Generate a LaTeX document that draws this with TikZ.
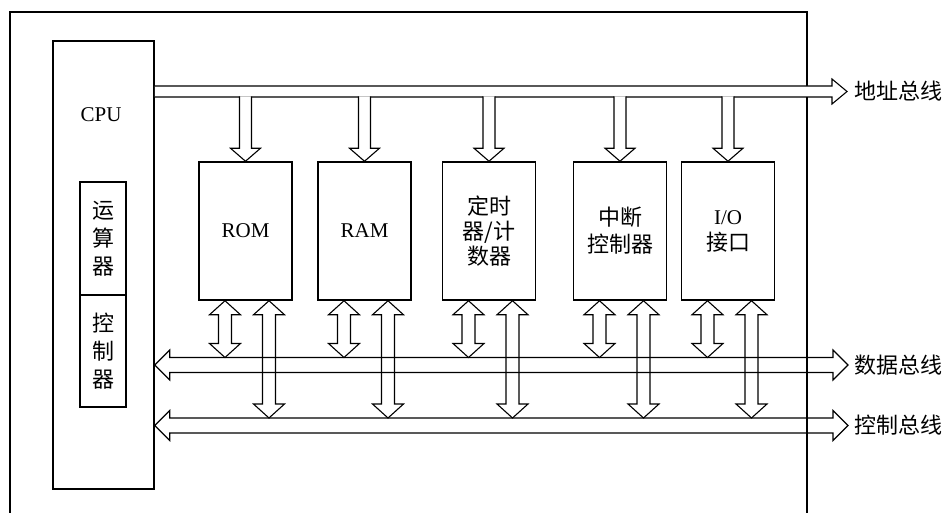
\documentclass[tikz,border=0pt]{standalone}
\usepackage{fontspec}
\setmainfont{Liberation Serif}
\newfontfamily\cjk{Noto Sans CJK SC}
\usepackage{tikz}
\usetikzlibrary{positioning,calc}

\begin{document}
\begin{tikzpicture}[
    x=1pt, y=1pt,
    cpubox/.style   = {draw, line width=1.5pt, minimum width=101pt,
                       minimum height=448pt, inner sep=0pt},
    unit/.style     = {draw, line width=1.4pt, minimum width=46pt,
                       minimum height=113pt, inner sep=0pt, align=center,
                       font=\cjk\fontsize{22}{28}\selectfont},
    modbox/.style   = {draw, line width=1.5pt, minimum width=93pt,
                       minimum height=138pt, inner sep=0pt, align=center,
                       font=\fontsize{21}{26}\selectfont},
    bus/.style      = {draw, line width=1.1pt, line join=miter},
    buslab/.style   = {inner sep=0pt, anchor=west,
                       font=\cjk\fontsize{22}{25}\selectfont}
]
\clip (0,0) rectangle (949,512);

% board and CPU
\draw[line width=1.4pt] (10,-10) rectangle (807,500);
\node[cpubox] (cpu) at (103.5,247) {};
\node[font=\fontsize{21}{24}\selectfont] (cpulab) at (101,397) {CPU};
\node[unit] (alu) at (103,273.5) {运\\算\\器};
\node[unit, minimum height=112pt] (ctl) at (103,161) {控\\制\\器};

% modules on the buses
\node[modbox] (rom) at (245.5,281) {ROM};
\node[modbox] (ram) at (364.5,281) {RAM};
\node[modbox, font=\cjk\fontsize{22}{25}\selectfont] (tmr) at (489,281) {定时\\器/计\\数器};
\node[modbox, font=\cjk\fontsize{22}{27}\selectfont] (irq) at (620,281) {中断\\控制器};
\node[modbox] (io) at (728,281) {I/O\\{\cjk\fontsize{22}{26}\selectfont 接口}};

% bus ends and labels
\coordinate (aend) at (847,420.5);
\coordinate (dend) at (848,147);
\coordinate (cend) at (848,86.5);
\node[buslab, right=7pt of aend] (alab) {地址总线};
\node[buslab, right=6pt of dend] (dlab) {数据总线};
\node[buslab, right=6pt of cend] (clab) {控制总线};

% address bus
\draw[bus, fill=white] let \p1=(cpu.east), \p2=(aend) in
    (\x1,\y2+5.5) -- (\x2-15,\y2+5.5) -- (\x2-15,\y2+12.5) -- (\p2)
    -- (\x2-15,\y2-12.5) -- (\x2-15,\y2-5.5) -- (\x1,\y2-5.5);

% data bus
\draw[bus] let \p1=(cpu.east), \p2=(dend) in
    (\x1,\y2) -- (\x1+15,\y2+15) -- (\x1+15,\y2+7.5) -- (\x2-15,\y2+7.5)
    -- (\x2-15,\y2+15) -- (\p2) -- (\x2-15,\y2-15) -- (\x2-15,\y2-7.5)
    -- (\x1+15,\y2-7.5) -- (\x1+15,\y2-15) -- cycle;

% control bus
\draw[bus] let \p1=(cpu.east), \p2=(cend) in
    (\x1,\y2) -- (\x1+15,\y2+15) -- (\x1+15,\y2+7.5) -- (\x2-15,\y2+7.5)
    -- (\x2-15,\y2+15) -- (\p2) -- (\x2-15,\y2-15) -- (\x2-15,\y2-7.5)
    -- (\x1+15,\y2-7.5) -- (\x1+15,\y2-15) -- cycle;

\foreach \m in {rom,ram,tmr,irq,io}{
  % address drop
  \draw[bus, fill=white] let \p1=(\m.north), \p2=(aend) in
      (\x1-6,\y2-5) -- (\x1-6,\y1+13) -- (\x1-15,\y1+13) -- (\p1)
      -- (\x1+15,\y1+13) -- (\x1+6,\y1+13) -- (\x1+6,\y2-5);
  % to data bus
  \draw[bus] let \p1=($(\m.south)+(-20.5,0)$), \p2=(dend) in
      (\p1) -- (\x1+15.5,\y1-14) -- (\x1+6.5,\y1-14) -- (\x1+6.5,\y2+21.5)
      -- (\x1+15.5,\y2+21.5) -- (\x1,\y2+7.5) -- (\x1-15.5,\y2+21.5)
      -- (\x1-6.5,\y2+21.5) -- (\x1-6.5,\y1-14) -- (\x1-15.5,\y1-14) -- cycle;
  % to control bus
  \draw[bus] let \p1=($(\m.south)+(23.5,0)$), \p2=(cend) in
      (\p1) -- (\x1+15.5,\y1-14) -- (\x1+6.5,\y1-14) -- (\x1+6.5,\y2+21.5)
      -- (\x1+15.5,\y2+21.5) -- (\x1,\y2+7.5) -- (\x1-15.5,\y2+21.5)
      -- (\x1-6.5,\y2+21.5) -- (\x1-6.5,\y1-14) -- (\x1-15.5,\y1-14) -- cycle;
}

\end{tikzpicture}
\end{document}
